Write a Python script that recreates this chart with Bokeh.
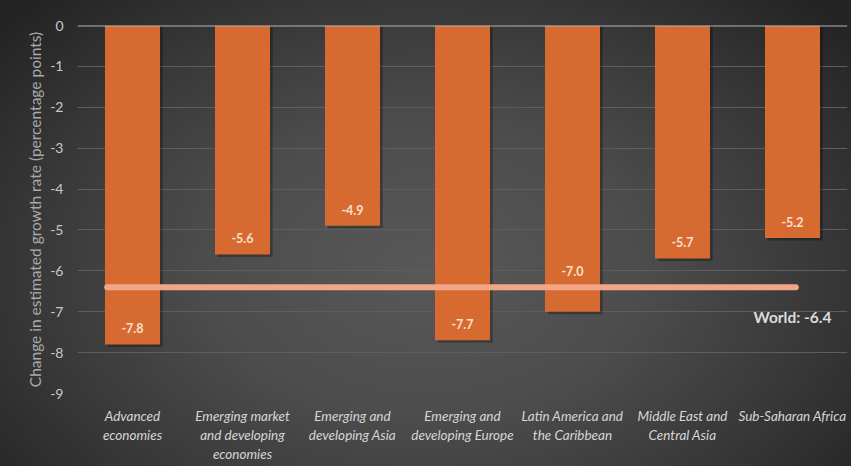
from bokeh.plotting import figure
from bokeh.models import FixedTicker, Range1d, Span, ColumnDataSource
from bokeh.embed import file_html
from bokeh.resources import INLINE
from bokeh.core.properties import value

# ---- data ----
categories = ["Advanced economies", "Emerging market and developing economies",
              "Emerging and developing Asia", "Emerging and developing Europe",
              "Latin America and the Caribbean", "Middle East and Central Asia",
              "Sub-Saharan Africa"]
tick_labels = ["Advanced\neconomies", "Emerging market\nand developing\neconomies",
               "Emerging and\ndeveloping Asia", "Emerging and\ndeveloping Europe",
               "Latin America and\nthe Caribbean", "Middle East and\nCentral Asia",
               "Sub-Saharan Africa"]
values = [-7.8, -5.6, -4.9, -7.7, -7.0, -5.7, -5.2]
world_value = -6.4
world_label = "World: -6.4"
y_ticks = [0, -1, -2, -3, -4, -5, -6, -7, -8, -9]
y_title = "Change in estimated growth rate (percentage points)"

FONT = "Lato"
n = len(categories)
xs = [i + 0.5 for i in range(n)]


def label_y(v):
    y = v + 0.4
    # move a label that would sit on the world line above it
    if abs(y - world_value) < 0.35:
        y = world_value + 0.4
    return y


p = figure(width=851, height=466, output_backend="svg", toolbar_location=None,
           x_range=Range1d(0, n), y_range=Range1d(-9, 0),
           min_border_left=77, min_border_right=4, min_border_top=25, min_border_bottom=73)
p.background_fill_alpha = 0
p.border_fill_alpha = 0
p.outline_line_color = None
p.styles = {"background-image":
            "radial-gradient(ellipse 65% 80% at 50% 58%, #585858 0%, #4c4c4c 40%, #393939 70%, #242424 100%)"}

# axes
p.xaxis.ticker = FixedTicker(ticks=xs)
p.xaxis.major_label_overrides = {x: lab for x, lab in zip(xs, tick_labels)}
p.xaxis.major_label_text_font = FONT
p.xaxis.major_label_text_font_style = "italic"
p.xaxis.major_label_text_font_size = "13.5px"
p.xaxis.major_label_text_color = "#d6d6d6"
p.xaxis.major_label_text_line_height = 1.2
p.xaxis.major_label_standoff = 8
p.xaxis.axis_line_color = None
p.xaxis.major_tick_line_color = None
p.xaxis.minor_tick_line_color = None

p.yaxis.ticker = FixedTicker(ticks=y_ticks)
p.yaxis.major_label_overrides = {t: str(t) for t in y_ticks}
p.yaxis.major_label_text_font = FONT
p.yaxis.major_label_text_font_size = "14px"
p.yaxis.major_label_text_color = "#c8c8c8"
p.yaxis.major_label_standoff = 8
p.yaxis.axis_line_color = None
p.yaxis.major_tick_line_color = None
p.yaxis.minor_tick_line_color = None
p.yaxis.axis_label = y_title
p.yaxis.axis_label_text_font = FONT
p.yaxis.axis_label_text_font_style = "normal"
p.yaxis.axis_label_text_font_size = "15.5px"
p.yaxis.axis_label_text_color = "#a9a9a9"
p.yaxis.axis_label_standoff = 3

p.xgrid.grid_line_color = None
p.ygrid.grid_line_color = "#5e5e5e"
p.ygrid.grid_line_width = 1

src = ColumnDataSource(dict(
    x=xs, top=[0] * n, bottom=values,
    sx=[x + 0.025 for x in xs], sbottom=[v - 0.06 for v in values],
    ly=[label_y(v) for v in values], lab=[f"{v:.1f}" for v in values],
))

# bar shadows
p.vbar(x="sx", top="top", bottom="sbottom", width=0.5, source=src,
       fill_color="#000000", fill_alpha=0.28, line_color=None)
# bars
p.vbar(x="x", top="top", bottom="bottom", width=0.5, source=src,
       fill_color="#d76a30", line_color=None)

# zero line
p.add_layout(Span(location=0, dimension="width", line_color="#b4b4b4", line_width=2))

# world average line
p.segment(x0=[xs[0] - 0.23], x1=[xs[-1] + 0.03], y0=[world_value], y1=[world_value],
          line_color="#f2a687", line_width=6, line_cap="round")

# bar labels
p.text(x="x", y="ly", text="lab", source=src, text_font=value(FONT),
       text_font_style="bold", text_font_size="12.5px", text_color="#f7e0cb",
       text_align="center", text_baseline="middle")

# world label
p.text(x=[xs[-1]], y=[world_value - 0.73], text=[world_label], text_font=value(FONT),
       text_font_style="bold", text_font_size="15.5px", text_color="#dcdcdc",
       text_align="center", text_baseline="middle")

open("out.html", "w").write(file_html(p, INLINE))
